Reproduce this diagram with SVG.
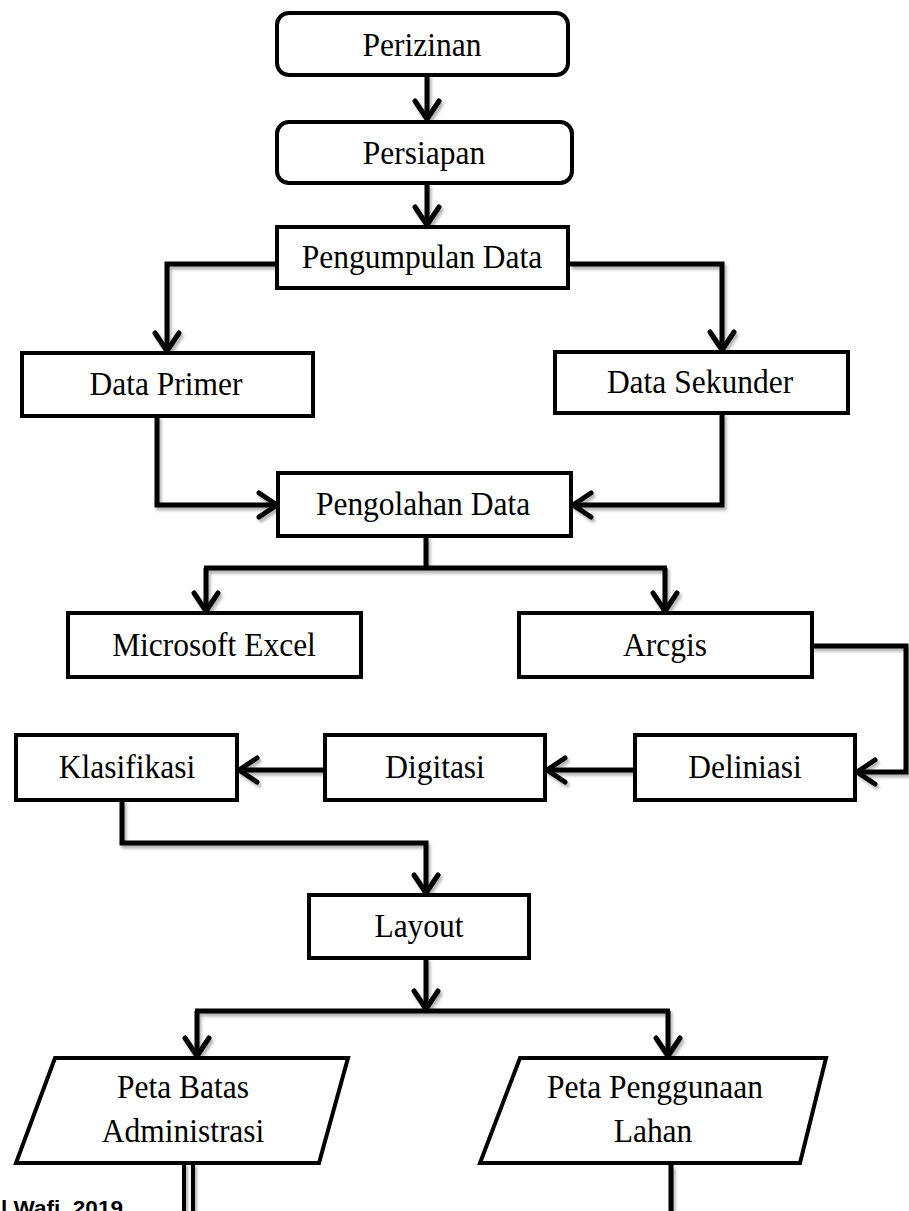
<svg xmlns="http://www.w3.org/2000/svg" width="909" height="1211" viewBox="0 0 909 1211">
<style>
.box{fill:#fff;stroke:#000;stroke-width:4}
.lbl{font-family:"Liberation Serif","Times New Roman",serif;font-size:31.5px;fill:#000;text-anchor:middle}
.con{fill:none;stroke:#000;stroke-width:5;stroke-linejoin:miter}
.src{font-family:"Liberation Sans",Arial,sans-serif;font-weight:bold;font-size:21px;fill:#000}
</style>
<defs>
<marker id="ah" markerUnits="userSpaceOnUse" markerWidth="30" markerHeight="30" viewBox="-22 -15 26 30" refX="0" refY="0" orient="auto">
<path d="M-18,-12 L0,0 L-18,12" fill="none" stroke="#000" stroke-width="5" stroke-linecap="round" stroke-linejoin="round"/>
</marker>
<filter id="sh" x="-5%" y="-5%" width="110%" height="110%">
<feDropShadow dx="2" dy="3" stdDeviation="1.5" flood-color="#000" flood-opacity="0.3"/>
</filter>
</defs>
<rect width="909" height="1211" fill="#fff"/>
<g id="connectors" filter="url(#sh)">
<path class="con" d="M427,75 V119" marker-end="url(#ah)"/>
<path class="con" d="M427,183 V225" marker-end="url(#ah)"/>
<path class="con" d="M282,264 H167 V351" marker-end="url(#ah)"/>
<path class="con" d="M570,264 H722 V350" marker-end="url(#ah)"/>
<path class="con" d="M157,416 V505 H277" marker-end="url(#ah)"/>
<path class="con" d="M722,413 V505 H573" marker-end="url(#ah)"/>
<path class="con" d="M426,536 V568"/>
<path class="con" d="M204,568 H667"/>
<path class="con" d="M206,568 V611" marker-end="url(#ah)"/>
<path class="con" d="M665,568 V611" marker-end="url(#ah)"/>
<path class="con" d="M812,646 H906 V772 H857" marker-end="url(#ah)"/>
<path class="con" d="M635,770 H547" marker-end="url(#ah)"/>
<path class="con" d="M325,770 H239" marker-end="url(#ah)"/>
<path class="con" d="M122,800 V843 H426 V893" marker-end="url(#ah)"/>
<path class="con" d="M426,958 V1009" marker-end="url(#ah)"/>
<path class="con" d="M195,1011 H670"/>
<path class="con" d="M197,1011 V1056" marker-end="url(#ah)"/>
<path class="con" d="M668,1011 V1056" marker-end="url(#ah)"/>
<path fill="none" stroke="#000" stroke-width="4" d="M184,1163 V1211 M193,1163 V1211"/>
<path class="con" d="M671,1165 V1211"/>
</g>
<g id="n-perizinan">
<rect class="box" x="277" y="13" width="291" height="62" rx="12"/>
<text class="lbl" transform="translate(422,56) scale(1,1.07)">Perizinan</text>
</g>
<g id="n-persiapan">
<rect class="box" x="277" y="122" width="295" height="61" rx="12"/>
<text class="lbl" transform="translate(424,164) scale(1,1.07)">Persiapan</text>
</g>
<g id="n-pengumpulan">
<rect class="box" x="277" y="227" width="291" height="61"/>
<text class="lbl" transform="translate(422,268) scale(1,1.07)">Pengumpulan Data</text>
</g>
<g id="n-primer">
<rect class="box" x="22" y="353" width="291" height="63"/>
<text class="lbl" transform="translate(166,395) scale(1,1.07)">Data Primer</text>
</g>
<g id="n-sekunder">
<rect class="box" x="555" y="352" width="293" height="61"/>
<text class="lbl" transform="translate(700,393) scale(1,1.07)">Data Sekunder</text>
</g>
<g id="n-pengolahan">
<rect class="box" x="278" y="473" width="293" height="63"/>
<text class="lbl" transform="translate(423,515) scale(1,1.07)">Pengolahan Data</text>
</g>
<g id="n-excel">
<rect class="box" x="68" y="613" width="293" height="64"/>
<text class="lbl" transform="translate(214,656) scale(1,1.07)">Microsoft Excel</text>
</g>
<g id="n-arcgis">
<rect class="box" x="519" y="613" width="293" height="64"/>
<text class="lbl" transform="translate(665,656) scale(1,1.07)">Arcgis</text>
</g>
<g id="n-deliniasi">
<rect class="box" x="635" y="735" width="220" height="65"/>
<text class="lbl" transform="translate(745,778) scale(1,1.07)">Deliniasi</text>
</g>
<g id="n-digitasi">
<rect class="box" x="325" y="735" width="220" height="65"/>
<text class="lbl" transform="translate(435,778) scale(1,1.07)">Digitasi</text>
</g>
<g id="n-klasifikasi">
<rect class="box" x="16" y="735" width="221" height="65"/>
<text class="lbl" transform="translate(127,778) scale(1,1.07)">Klasifikasi</text>
</g>
<g id="n-layout">
<rect class="box" x="309" y="895" width="220" height="63"/>
<text class="lbl" transform="translate(419,937) scale(1,1.07)">Layout</text>
</g>
<g id="n-peta-batas">
<polygon class="box" points="55,1058 348,1058 319,1163 16,1163"/>
<text class="lbl" transform="translate(183,1098) scale(1,1.07)">Peta Batas</text>
<text class="lbl" transform="translate(183,1142) scale(1,1.07)">Administrasi</text>
</g>
<g id="n-peta-lahan">
<polygon class="box" points="520,1058 826,1058 800,1163 480,1163"/>
<text class="lbl" transform="translate(655,1098) scale(1,1.07)">Peta Penggunaan</text>
<text class="lbl" transform="translate(653,1142) scale(1,1.07)">Lahan</text>
</g>
<text class="src" x="1" y="1215" textLength="122" lengthAdjust="spacingAndGlyphs">l Wafi, 2019</text>
</svg>
